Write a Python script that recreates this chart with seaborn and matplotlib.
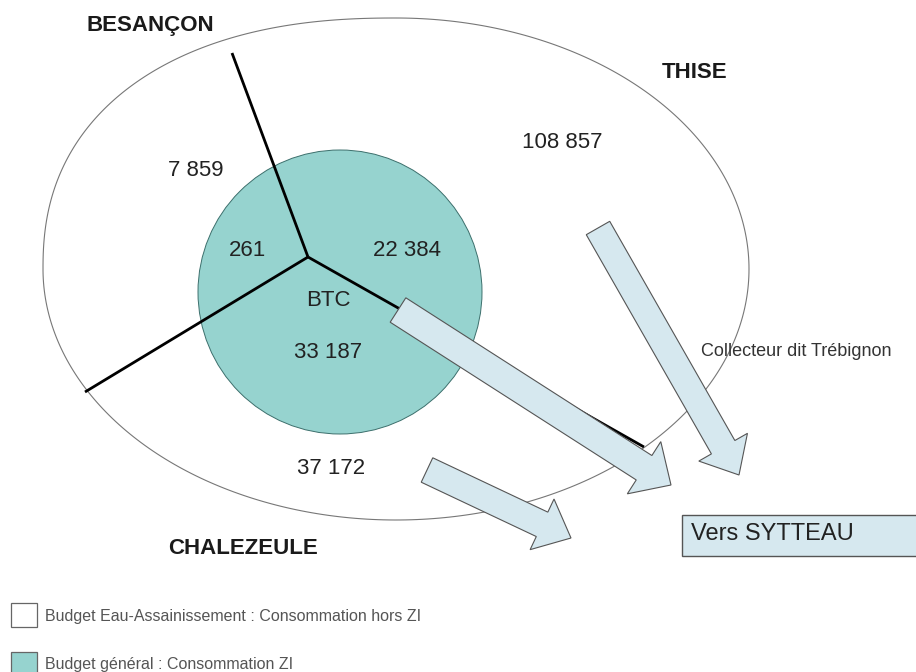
import matplotlib
matplotlib.use("Agg")
import numpy as np
import matplotlib.pyplot as plt
from matplotlib.patches import Polygon, Circle, FancyArrow, Rectangle
import seaborn as sns

# consumption per commune (outside ZI) and inside the ZI (BTC)
communes = ["BESANÇON", "THISE", "CHALEZEULE"]
conso_hors_zi = [7859, 108857, 37172]
conso_zi = [261, 22384, 33187]
zone_zi = "BTC"
collecteur = "Collecteur dit Trébignon"
destination = "Vers SYTTEAU"
legend_labels = ["Budget Eau-Assainissement : Consommation hors ZI",
                 "Budget général : Consommation ZI"]

# layout in pixel coordinates (y down)
commune_pos = [(150, 25), (695, 72), (243, 548)]
hors_zi_pos = [(196, 170), (562, 143), (331, 468)]
zi_pos = [(247, 250), (407, 250), (328, 353)]
btc_pos = (328, 300)
centre = (308, 257)
split_ends = [(232, 53), (85, 392), (644, 447)]
# (tail, tip, shaft width, head width)
arrows = [((398, 310), (671, 485), 29, 62),
          ((598, 228), (739, 475), 27, 56),
          ((427, 470), (571, 538), 27, 56)]

TEAL = "#96d3cf"
PALE = "#d6e8ef"


def fmt(v):
    return f"{v:,}".replace(",", " ")


def outline(cx, cy, a, b, n_ul=2.3, steps=400):
    # ellipse, slightly squarer in the upper-left quarter like the drawing
    t = np.linspace(0, 2 * np.pi, steps)
    c, s = np.cos(t), np.sin(t)
    n = np.where((c < 0) & (s < 0), n_ul, 2.0)
    x = cx + a * np.sign(c) * np.abs(c) ** (2 / n)
    y = cy + b * np.sign(s) * np.abs(s) ** (2 / n)
    return np.column_stack([x, y])


sns.set_theme(style="white")
plt.rcParams["font.family"] = ["Liberation Sans", "DejaVu Sans"]

fig = plt.figure(figsize=(9.16, 6.72), dpi=100)
ax = fig.add_axes([0, 0, 1, 1])
ax.set_xlim(0, 916)
ax.set_ylim(672, 0)
ax.axis("off")

ax.add_patch(Polygon(outline(396, 269, 353, 251), closed=True, facecolor="white",
                     edgecolor="#777777", lw=0.8, zorder=1))
ax.add_patch(Circle((340, 292), 142, facecolor=TEAL, edgecolor="#3c6f6c", lw=0.7, zorder=2))

for end in split_ends:
    ax.plot([centre[0], end[0]], [centre[1], end[1]], color="black", lw=2.0, zorder=3,
            solid_capstyle="butt")

for (x0, y0), (x1, y1), w, hw in arrows:
    ax.add_patch(FancyArrow(x0, y0, x1 - x0, y1 - y0, width=w, head_width=hw, head_length=32,
                            length_includes_head=True, facecolor=PALE, edgecolor="#555555",
                            lw=0.8, zorder=4))

for name, (x, y) in zip(communes, commune_pos):
    ax.text(x, y, name, ha="center", va="center", fontsize=16, fontweight="bold", color="#1a1a1a", zorder=5)

for v, (x, y) in zip(conso_hors_zi, hors_zi_pos):
    ax.text(x, y, fmt(v), ha="center", va="center", fontsize=16, color="#222222", zorder=5)

for v, (x, y) in zip(conso_zi, zi_pos):
    ax.text(x, y, fmt(v), ha="center", va="center", fontsize=16, color="#222222", zorder=5)

ax.text(*btc_pos, zone_zi, ha="center", va="center", fontsize=16, color="#222222", zorder=5)
ax.text(701, 352, collecteur, ha="left", va="center", fontsize=13, color="#333333", zorder=5)

ax.add_patch(Rectangle((682, 515), 260, 41, facecolor=PALE, edgecolor="#555555", lw=1.0, zorder=4))
ax.text(691, 534, destination, ha="left", va="center", fontsize=17, color="#222222", zorder=5)

for i, (label, fc) in enumerate(zip(legend_labels, ["white", TEAL])):
    y = 603 + i * 49
    ax.add_patch(Rectangle((11, y), 26, 24, facecolor=fc, edgecolor="#666666", lw=0.9, zorder=4))
    ax.text(45, y + 13, label, ha="left", va="center", fontsize=11.5, color="#555555", zorder=5)

fig.savefig("out.png", dpi=100)
